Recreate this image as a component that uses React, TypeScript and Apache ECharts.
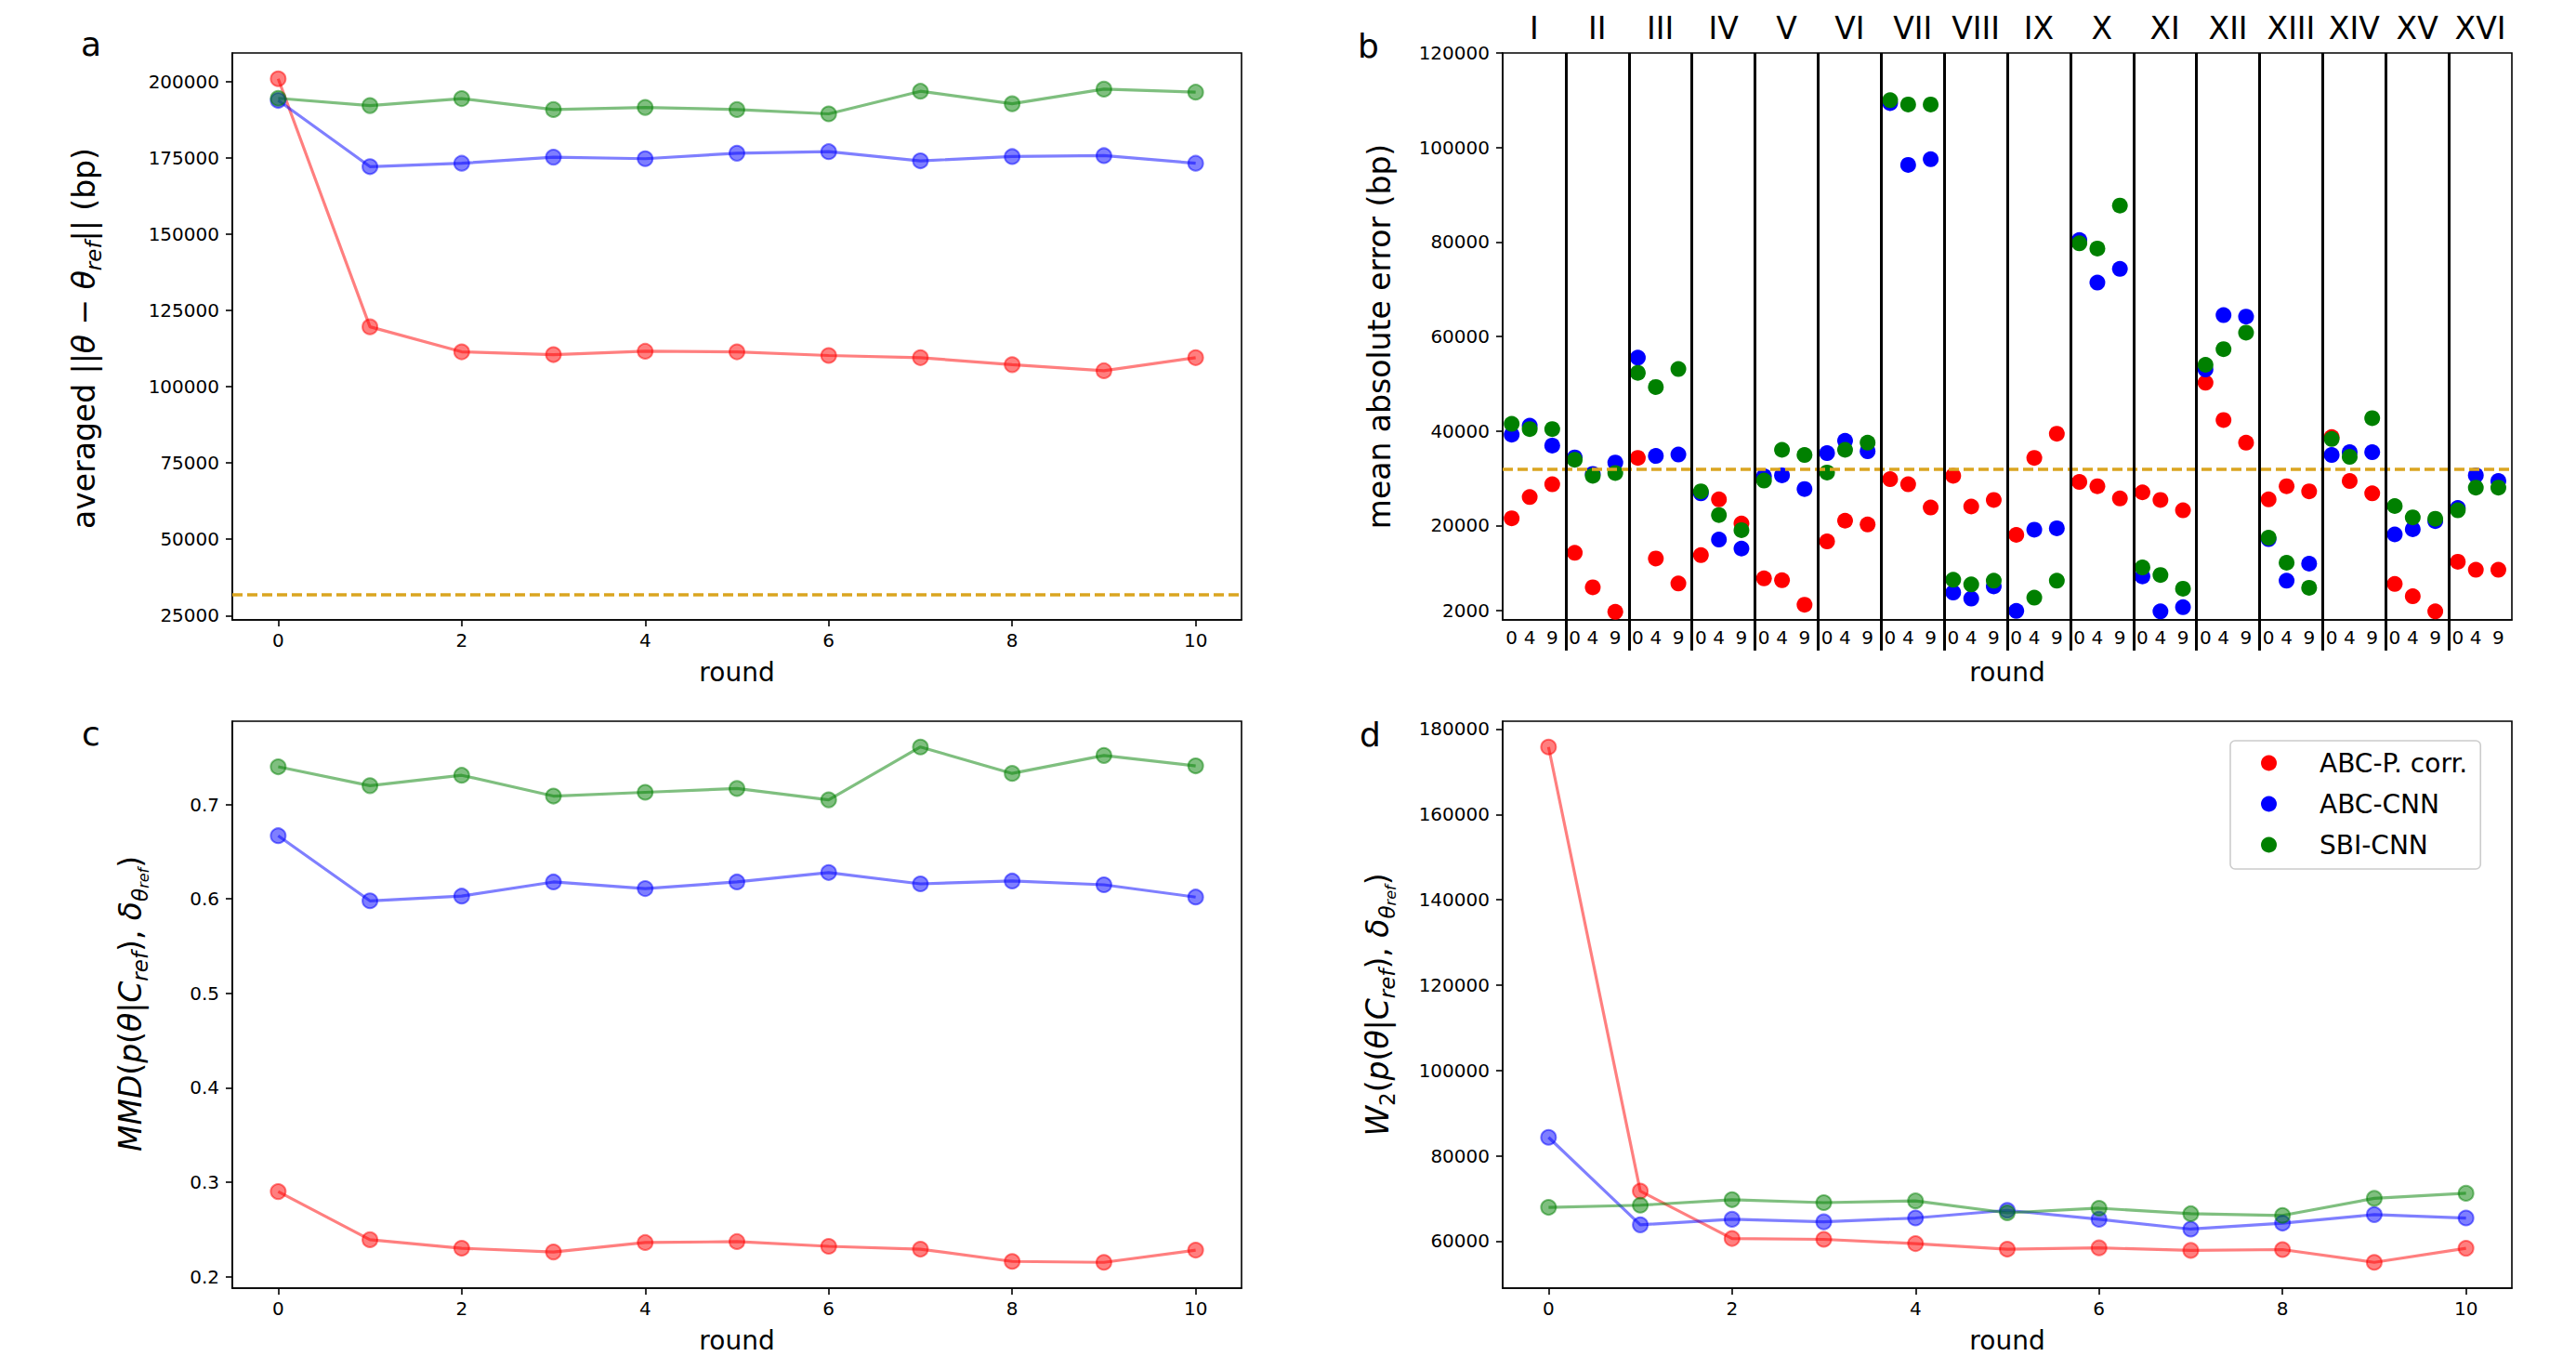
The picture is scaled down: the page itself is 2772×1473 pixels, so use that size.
import React, { useEffect, useRef } from "react";
import * as echarts from "echarts";

const FONT = "DejaVu Sans";

// Rounds of the inference procedure
const rounds = [0, 1, 2, 3, 4, 5, 6, 7, 8, 9, 10];
const roundTicks = [0, 2, 4, 6, 8, 10];

const methods = ["ABC-P. corr.", "ABC-CNN", "SBI-CNN"];
const solidColors = ["#ff0000", "#0000ff", "#008000"];
const fadedColors = ["rgba(255,0,0,0.5)", "rgba(0,0,255,0.5)", "rgba(0,128,0,0.5)"];

// Reference error level (bp), dashed line in panels a and b
const threshold = 32000;

// (a) averaged ||theta - theta_ref|| (bp)
const distRed = [200900, 119600, 111400, 110500, 111600, 111400, 110200, 109500, 107200, 105200, 109500];
const distBlue = [193800, 172100, 173200, 175200, 174700, 176500, 177000, 174000, 175400, 175700, 173200];
const distGreen = [194500, 192100, 194400, 190800, 191500, 190800, 189400, 196800, 192700, 197500, 196500];
const distTicks = [25000, 50000, 75000, 100000, 125000, 150000, 175000, 200000];

// (b) mean absolute error per chromosome, rounds 0 / 4 / 9
const chromosomes = ["I", "II", "III", "IV", "V", "VI", "VII", "VIII", "IX", "X", "XI", "XII", "XIII", "XIV", "XV", "XVI"];
const sampledRounds = [0, 4, 9];
const maeRed = [
  21500, 26000, 28700, 14200, 6900, 1700, 34300, 13000, 7700, 13700, 25500, 20400,
  8800, 8400, 3200, 16600, 21000, 20200, 29800, 28700, 23800, 30500, 24000, 25400,
  18000, 34300, 39400, 29200, 28300, 25700, 27000, 25400, 23200, 50200, 42300, 37500,
  25500, 28300, 27200, 38700, 29400, 26800, 7600, 5000, 1800, 12300, 10600, 10600,
];
const maeBlue = [
  39200, 41100, 36900, 34400, 30900, 33300, 55500, 34700, 35000, 26800, 17000, 15100,
  30400, 30600, 27700, 35300, 37900, 35700, 109400, 96300, 97500, 5800, 4500, 7100,
  1900, 19100, 19400, 80400, 71400, 74300, 9200, 1800, 2700, 53000, 64500, 64200,
  17100, 8300, 11900, 34900, 35500, 35500, 18100, 19200, 20900, 23700, 30600, 29400,
];
const maeGreen: (number | null)[] = [
  41500, 40400, 40400, 33900, 30500, 31100, 52300, 49300, 53100, 27200, 22200, 19000,
  29500, 36000, 34900, 31200, 36000, 37500, 110000, 109100, 109100, 8500, 7500, 8300,
  null, 4700, 8300, 79700, 78600, 87700, 11100, 9500, 6600, 54000, 57300, 60800,
  17400, 12100, 6800, 38300, 34500, 42700, 24100, 21700, 21400, 23200, 28000, 28000,
];
const maeTicks = [2000, 20000, 40000, 60000, 80000, 100000, 120000];

// (c) MMD to the reference
const mmdRed = [0.29, 0.239, 0.23, 0.226, 0.236, 0.237, 0.232, 0.229, 0.216, 0.215, 0.228];
const mmdBlue = [0.667, 0.598, 0.603, 0.618, 0.611, 0.618, 0.628, 0.616, 0.619, 0.615, 0.602];
const mmdGreen = [0.74, 0.72, 0.731, 0.709, 0.713, 0.717, 0.705, 0.761, 0.733, 0.752, 0.741];
const mmdTicks = [0.2, 0.3, 0.4, 0.5, 0.6, 0.7];

// (d) Wasserstein-2 distance to the reference
const w2Red = [175800, 71700, 60600, 60400, 59400, 58100, 58400, 57800, 58000, 55000, 58300];
const w2Blue = [84300, 63800, 65100, 64500, 65400, 67200, 65100, 62800, 64200, 66200, 65400];
const w2Green = [67900, 68400, 69700, 69000, 69400, 66600, 67700, 66400, 66000, 70000, 71200];
const w2Ticks = [60000, 80000, 100000, 120000, 140000, 160000, 180000];

// Panel b x layout: each chromosome occupies a block of round units
const groupSpan = 14;
const groupLead = 2;

function paddedRange(values: number[]): [number, number] {
  const lo = Math.min(...values);
  const hi = Math.max(...values);
  const m = (hi - lo) * 0.05;
  return [lo - m, hi + m];
}

const black = { color: "#000", width: 1.6 };
const tickText = { fontSize: 20, fontFamily: FONT, color: "#000" };
const nameText = { fontSize: 28, fontFamily: FONT, color: "#000" };

function gridBox(left: number, top: number) {
  return {
    left, top, width: 1086, height: 610,
    show: true, borderColor: "#000", borderWidth: 1.6,
    backgroundColor: "transparent",
    outerBoundsMode: "none", containLabel: false,
  };
}

function roundAxis(gridIndex: number) {
  return {
    type: "value", gridIndex, min: -0.5, max: 10.5,
    axisLine: { show: true, onZero: false, lineStyle: black },
    axisTick: { show: true, customValues: roundTicks, length: 7, lineStyle: black },
    axisLabel: { customValues: roundTicks, formatter: (v: number) => String(v), margin: 12, ...tickText },
    splitLine: { show: false },
    name: "round", nameLocation: "middle", nameGap: 42, nameMoveOverlap: false,
    nameTextStyle: nameText,
  };
}

function valueAxis(gridIndex: number, range: [number, number], ticks: number[]) {
  return {
    type: "value", gridIndex, min: range[0], max: range[1],
    axisLine: { show: true, onZero: false, lineStyle: black },
    axisTick: { show: true, customValues: ticks, length: 7, lineStyle: black },
    axisLabel: { customValues: ticks, formatter: (v: number) => String(v), margin: 14, ...tickText },
    splitLine: { show: false },
  };
}

function lineSeries(k: number, values: number[], axisIndex: [number, number], extra: any = {}) {
  return {
    type: "line", name: methods[k],
    xAxisIndex: axisIndex[0], yAxisIndex: axisIndex[1],
    data: rounds.map((r, i) => [r, values[i]]),
    symbol: "circle", symbolSize: 16,
    lineStyle: { color: fadedColors[k], width: 3.2 },
    itemStyle: { color: fadedColors[k], borderColor: fadedColors[k], borderWidth: 2, opacity: 1 },
    emphasis: { disabled: true }, silent: true,
    ...extra,
  };
}

function scatterSeries(k: number, values: (number | null)[], extra: any = {}) {
  const data: number[][] = [];
  values.forEach((v, idx) => {
    if (v == null) return;
    const g = Math.floor(idx / sampledRounds.length);
    const r = sampledRounds[idx % sampledRounds.length];
    data.push([g * groupSpan + r, v]);
  });
  return {
    type: "scatter", name: methods[k], xAxisIndex: 1, yAxisIndex: 1,
    data, symbol: "circle", symbolSize: 17,
    itemStyle: { color: solidColors[k], opacity: 1 },
    emphasis: { disabled: true }, silent: true,
    ...extra,
  };
}

const dashed = { color: "#DAA520", width: 3.6, type: [11, 5], opacity: 1 };

function thresholdMark(more: any[] = []) {
  return {
    silent: true, symbol: ["none", "none"], label: { show: false },
    emphasis: { disabled: true },
    lineStyle: dashed,
    data: [{ yAxis: threshold, lineStyle: dashed }, ...more],
  };
}

function buildOption() {
  const xMin = -groupLead;
  const xMax = chromosomes.length * groupSpan - groupLead;
  const separators = chromosomes.slice(1).map((_, g) => (g + 1) * groupSpan - groupLead);
  const roundPositions: number[] = [];
  chromosomes.forEach((_, g) => sampledRounds.forEach((r) => roundPositions.push(g * groupSpan + r)));
  const groupCentres = chromosomes.map((_, g) => g * groupSpan + groupSpan / 2 - groupLead);

  const rangeA = paddedRange([...distRed, ...distBlue, ...distGreen, threshold]);
  const rangeC = paddedRange([...mmdRed, ...mmdBlue, ...mmdGreen]);
  const rangeD = paddedRange([...w2Red, ...w2Blue, ...w2Green]);

  const sub = { fontFamily: FONT, fontStyle: "italic", fontSize: 23, lineHeight: 26, verticalAlign: "bottom" };
  const subUp = { fontFamily: FONT, fontSize: 23, lineHeight: 26, verticalAlign: "bottom" };
  const subsub = { fontFamily: FONT, fontStyle: "italic", fontSize: 16, lineHeight: 13, verticalAlign: "bottom" };
  const rich = {
    n: { fontFamily: FONT, fontSize: 33, lineHeight: 44, verticalAlign: "middle" },
    i: { fontFamily: FONT, fontStyle: "italic", fontSize: 33, lineHeight: 44, verticalAlign: "middle" },
    s: sub, u: subUp, ss: subsub,
  };

  const yLabel = (x: number, y: number, text: string) => ({
    type: "text", x, y, rotation: Math.PI / 2, silent: true,
    style: { text, rich, align: "center", verticalAlign: "middle", fill: "#000" },
  });
  const letter = (x: number, y: number, text: string) => ({
    type: "text", x, y, silent: true,
    style: { text, fontFamily: FONT, fontSize: 36, fill: "#000", align: "left", verticalAlign: "middle" },
  });

  return {
    animation: false,
    backgroundColor: "#fff",
    textStyle: { fontFamily: FONT },
    grid: [gridBox(250, 57), gridBox(1617, 57), gridBox(250, 776), gridBox(1617, 776)],
    xAxis: [
      roundAxis(0),
      {
        type: "value", gridIndex: 1, min: xMin, max: xMax,
        axisLine: { show: true, onZero: false, lineStyle: black },
        axisTick: { show: true, customValues: separators, length: 33, lineStyle: { color: "#000", width: 3 } },
        axisLabel: {
          customValues: roundPositions,
          formatter: (v: number) => String(((v + groupLead) % groupSpan) - groupLead),
          margin: 9, ...tickText,
        },
        splitLine: { show: false },
        name: "round", nameLocation: "middle", nameGap: 42, nameMoveOverlap: false,
        nameTextStyle: nameText,
      },
      {
        type: "value", gridIndex: 1, position: "top", min: xMin, max: xMax,
        axisLine: { show: false }, axisTick: { show: false }, splitLine: { show: false },
        axisLabel: {
          customValues: groupCentres,
          formatter: (v: number) => chromosomes[Math.round((v - groupCentres[0]) / groupSpan)],
          margin: 10, fontSize: 33, fontFamily: FONT, color: "#000",
        },
      },
      roundAxis(2),
      roundAxis(3),
    ],
    yAxis: [
      valueAxis(0, rangeA, distTicks),
      valueAxis(1, [0, 120000], maeTicks),
      valueAxis(2, rangeC, mmdTicks),
      valueAxis(3, rangeD, w2Ticks),
    ],
    legend: {
      left: 2400, top: 797, orient: "vertical",
      selectedMode: false,
      backgroundColor: "rgba(255,255,255,0.8)",
      borderColor: "#cccccc", borderWidth: 1.6, borderRadius: 5,
      padding: [10, 14, 12, 33], itemGap: 16, itemWidth: 17, itemHeight: 17,
      textStyle: { fontSize: 28, fontFamily: FONT, color: "#000", padding: [0, 0, 0, 41] },
      data: methods.map((name, k) => ({ name, icon: "circle", itemStyle: { color: solidColors[k], opacity: 1 } })),
    },
    series: [
      scatterSeries(0, maeRed, {
        markLine: thresholdMark(
          separators.map((x) => ({ xAxis: x, lineStyle: { color: "#000", width: 3, type: "solid" } }))
        ),
      }),
      scatterSeries(1, maeBlue),
      scatterSeries(2, maeGreen),
      lineSeries(0, distRed, [0, 0], { markLine: thresholdMark() }),
      lineSeries(1, distBlue, [0, 0]),
      lineSeries(2, distGreen, [0, 0]),
      lineSeries(0, mmdRed, [3, 2]),
      lineSeries(1, mmdBlue, [3, 2]),
      lineSeries(2, mmdGreen, [3, 2]),
      lineSeries(0, w2Red, [4, 3]),
      lineSeries(1, w2Blue, [4, 3]),
      lineSeries(2, w2Green, [4, 3]),
    ],
    graphic: [
      letter(87, 47, "a"),
      letter(1461, 49, "b"),
      letter(88, 789, "c"),
      letter(1463, 790, "d"),
      yLabel(90, 364, "{n|averaged ||}{i|θ}{n| − }{i|θ}{s|ref}{n||| (bp)}"),
      yLabel(1484, 362, "{n|mean absolute error (bp)}"),
      yLabel(140, 1080, "{i|MMD}{n|(}{i|p}{n|(}{i|θ}{n||}{i|C}{s|ref}{n|), }{i|δ}{s|θ}{ss|ref}{n|)}"),
      yLabel(1482, 1081, "{i|W}{u|2}{n|(}{i|p}{n|(}{i|θ}{n||}{i|C}{s|ref}{n|), }{i|δ}{s|θ}{ss|ref}{n|)}"),
    ],
  };
}

export default function App() {
  const ref = useRef<HTMLDivElement>(null);
  useEffect(() => {
    if (!ref.current) return;
    const chart = echarts.init(ref.current, null, { renderer: "svg" });
    chart.setOption(buildOption() as any);
    return () => chart.dispose();
  }, []);
  return (
    <div
      ref={ref}
      style={{ position: "fixed", left: 0, top: 0, width: 2772, height: 1473, background: "#fff" }}
    />
  );
}
